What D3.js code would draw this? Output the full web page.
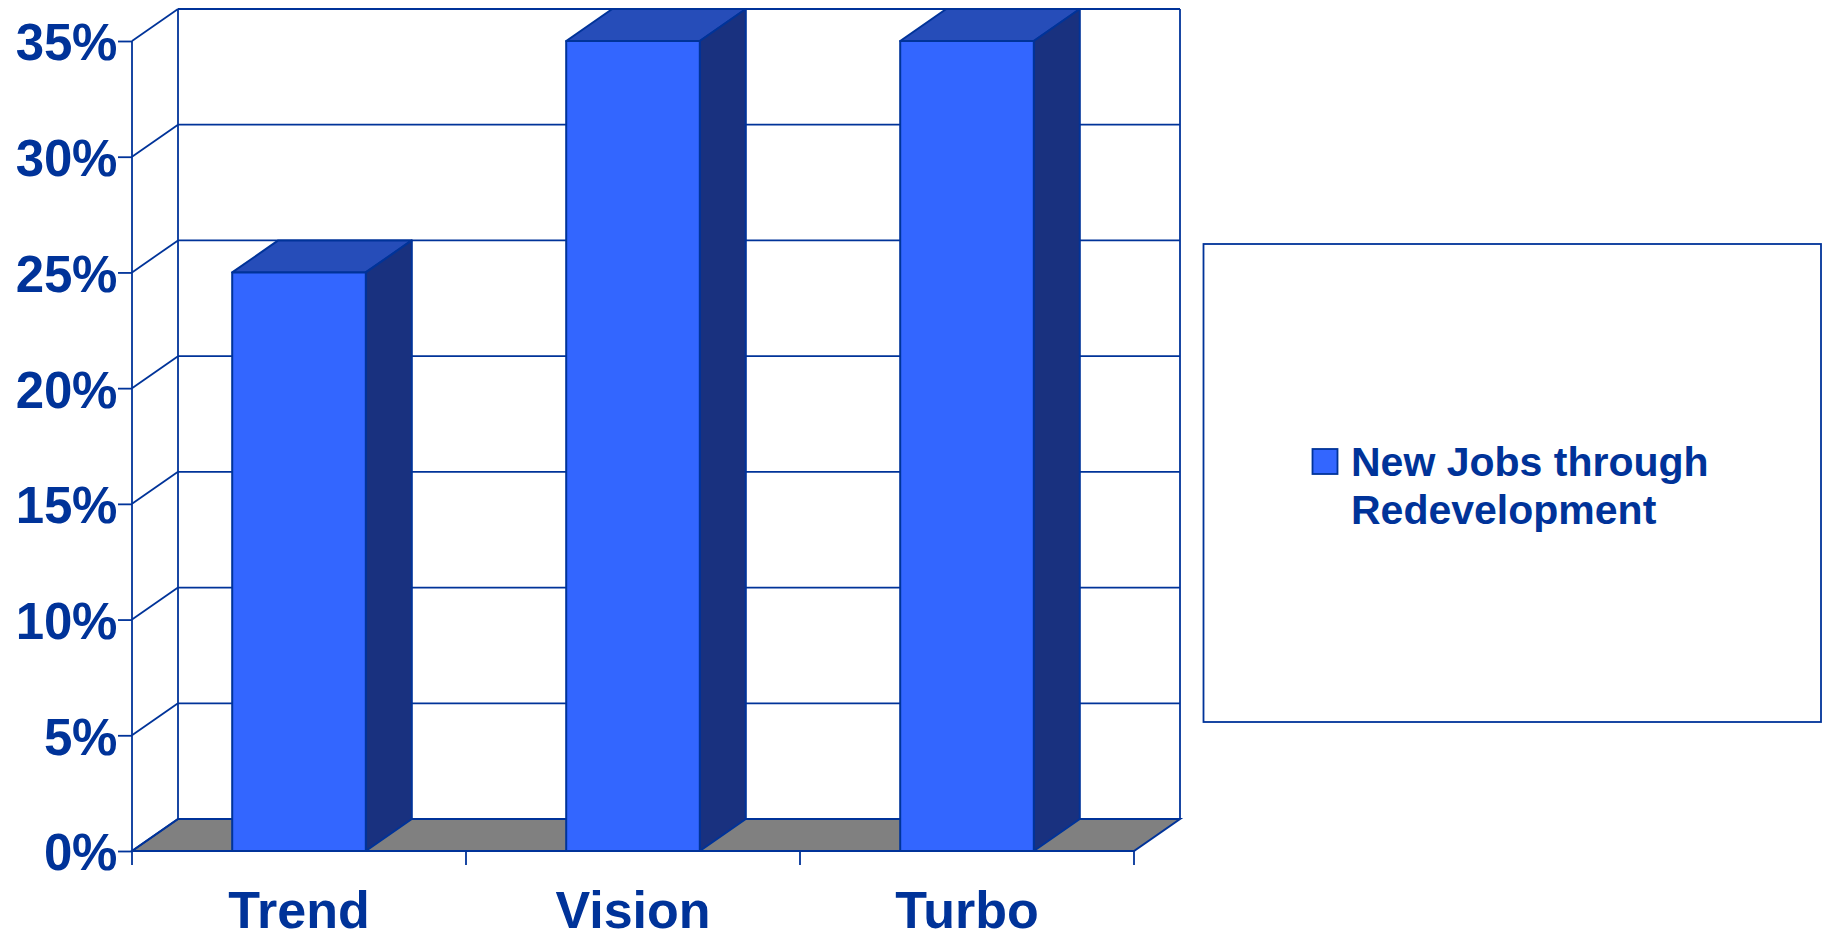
<!DOCTYPE html>
<html>
<head>
<meta charset="utf-8">
<style>
  html, body { margin: 0; padding: 0; background: #fff; }
  svg { display: block; }
  text { font-family: "Liberation Sans", Arial, sans-serif; font-weight: bold; fill: #003399; }
</style>
<script src="https://cdnjs.cloudflare.com/ajax/libs/d3/7.8.5/d3.min.js"></script>
</head>
<body>
<svg id="chart" width="1826" height="932"></svg>
<script>
// Job growth scenarios
const categories = ["Trend", "Vision", "Turbo"];
const seriesName = ["New Jobs through", "Redevelopment"];
const values = [25, 35, 35];
const tickValues = [0, 5, 10, 15, 20, 25, 30, 35];

const INK = "#003399", FRONT = "#3366ff", TOP = "#264db9", SIDE = "#19317f", FLOOR = "#808080";

// Extruded-chart geometry: the depth offset shifts the back wall up and to the right
const depthX = 46, depthY = -32;
const svg = d3.select("#chart");
const x = d3.scaleBand().domain(categories).range([132, 1134]).paddingInner(0).paddingOuter(0);
const y = d3.scaleLinear().domain([0, 35]).range([851, 41]);
const barWidth = x.bandwidth() * 0.4;
const barLeft = c => x(c) + (x.bandwidth() - barWidth) / 2;
const pts = a => a.map(p => p.join(",")).join(" ");

// Floor
svg.append("polygon")
  .attr("points", pts([[x.range()[0], y(0)], [x.range()[1], y(0)],
                       [x.range()[1] + depthX, y(0) + depthY], [x.range()[0] + depthX, y(0) + depthY]]))
  .attr("fill", FLOOR).attr("stroke", INK).attr("stroke-width", 2);

// Back-wall gridlines and their diagonals along the side wall
const grid = svg.append("g").attr("stroke", INK).attr("stroke-width", 1.8).attr("fill", "none");
grid.selectAll("line.back").data(tickValues).join("line").attr("class", "back")
  .attr("x1", x.range()[0] + depthX).attr("x2", x.range()[1] + depthX)
  .attr("y1", d => y(d) + depthY).attr("y2", d => y(d) + depthY);
grid.selectAll("line.diag").data(tickValues).join("line").attr("class", "diag")
  .attr("x1", x.range()[0]).attr("x2", x.range()[0] + depthX)
  .attr("y1", d => y(d)).attr("y2", d => y(d) + depthY);
grid.append("line")
  .attr("x1", x.range()[0] + depthX).attr("x2", x.range()[0] + depthX)
  .attr("y1", y(0) + depthY).attr("y2", y(35) + depthY);
grid.append("line")
  .attr("x1", x.range()[1] + depthX).attr("x2", x.range()[1] + depthX)
  .attr("y1", y(0) + depthY).attr("y2", y(35) + depthY);

// Value axis
const yAxis = d3.axisLeft(y).tickValues(tickValues).tickSize(14).tickPadding(1).tickFormat(d => d + "%");
const gy = svg.append("g").attr("transform", `translate(${x.range()[0]},0)`).call(yAxis);
gy.selectAll("path,line").attr("stroke", INK).attr("stroke-width", 1.8);
gy.select("path.domain").attr("d", `M0,${y(35)}V${y(0)}`);
gy.selectAll("text").attr("font-size", 51).attr("font-family", null).attr("fill", null)
  .attr("dy", "0.37em").attr("letter-spacing", "-0.3");

// Category axis
const gx = svg.append("g").attr("transform", `translate(0,${y(0)})`);
gx.append("line").attr("x1", x.range()[0]).attr("x2", x.range()[1])
  .attr("stroke", INK).attr("stroke-width", 2);
const boundaries = categories.map(c => x(c)).concat(x.range()[1]);
gx.selectAll("line.tick").data(boundaries).join("line").attr("class", "tick")
  .attr("x1", d => d).attr("x2", d => d).attr("y1", 0).attr("y2", 14)
  .attr("stroke", INK).attr("stroke-width", 1.8);
gx.selectAll("text").data(categories).join("text")
  .attr("x", d => x(d) + x.bandwidth() / 2).attr("y", 77)
  .attr("text-anchor", "middle").attr("font-size", 52).text(d => d);

// Bars: front, top and side faces
const bars = svg.append("g").selectAll("g").data(categories).join("g")
  .attr("stroke", INK).attr("stroke-width", 2).attr("stroke-linejoin", "round");
bars.append("polygon").attr("fill", TOP)
  .attr("points", (c, i) => pts([[barLeft(c), y(values[i])], [barLeft(c) + barWidth, y(values[i])],
    [barLeft(c) + barWidth + depthX, y(values[i]) + depthY], [barLeft(c) + depthX, y(values[i]) + depthY]]));
bars.append("polygon").attr("fill", SIDE)
  .attr("points", (c, i) => pts([[barLeft(c) + barWidth, y(values[i])], [barLeft(c) + barWidth, y(0)],
    [barLeft(c) + barWidth + depthX, y(0) + depthY], [barLeft(c) + barWidth + depthX, y(values[i]) + depthY]]));
bars.append("rect").attr("fill", FRONT)
  .attr("x", barLeft).attr("width", barWidth)
  .attr("y", (c, i) => y(values[i])).attr("height", (c, i) => y(0) - y(values[i]));

// Legend
const legend = svg.append("g");
legend.append("rect").attr("x", 1203.5).attr("y", 244).attr("width", 617.5).attr("height", 478)
  .attr("fill", "#fff").attr("stroke", INK).attr("stroke-width", 1.8);
legend.append("rect").attr("x", 1312.5).attr("y", 449).attr("width", 25).attr("height", 25)
  .attr("fill", FRONT).attr("stroke", INK).attr("stroke-width", 1.8);
legend.selectAll("text").data(seriesName).join("text")
  .attr("x", 1351).attr("y", (d, i) => 475.5 + i * 48)
  .attr("font-size", 41).text(d => d);
</script>
</body>
</html>
